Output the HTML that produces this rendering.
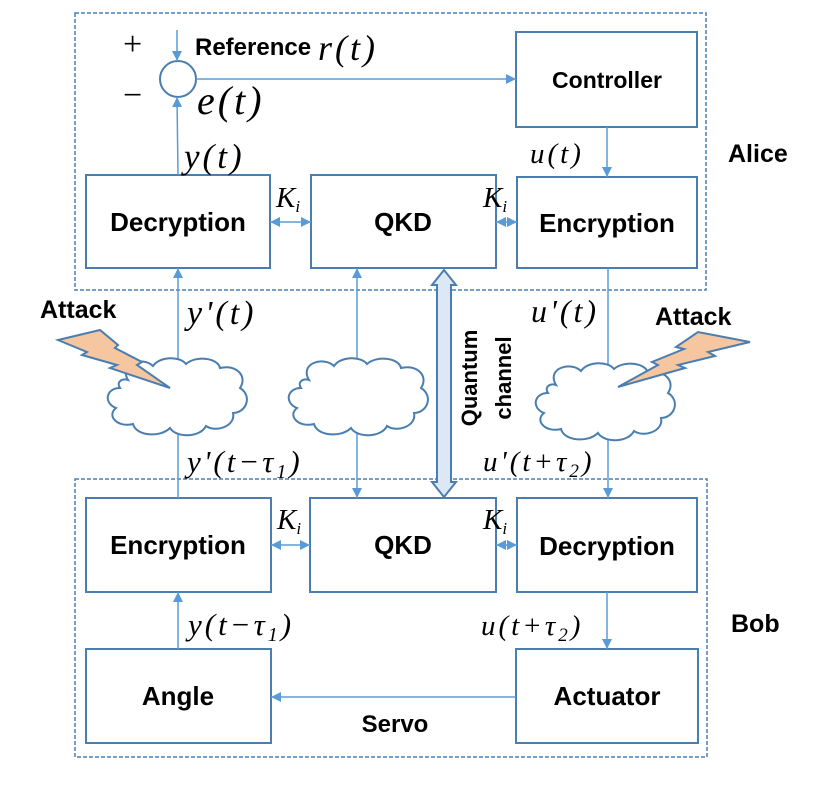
<!DOCTYPE html>
<html><head><meta charset="utf-8"><style>
html,body{margin:0;padding:0;background:#fff}
svg{display:block}
.b{font-family:"Liberation Sans",sans-serif;font-weight:bold;fill:#000}
.m{font-family:"Liberation Serif",serif;font-style:italic;fill:#000;letter-spacing:3px}
.r{font-family:"Liberation Serif",serif;fill:#000}
</style></head><body>
<svg width="831" height="785" viewBox="0 0 831 785" xmlns="http://www.w3.org/2000/svg">
<defs>
<marker id="a" viewBox="0 0 10 10" refX="10" refY="5" markerWidth="10" markerHeight="10" markerUnits="userSpaceOnUse" orient="auto-start-reverse"><path d="M0,0 L10,5 L0,10 z" fill="#5b9bd5"/></marker>
<g id="cloud"><path d="M20,22 C10,5 35,-2 45,8 C52,-2 72,-2 78,6 C88,-3 110,0 112,10 C128,6 140,18 132,30 C145,38 138,55 125,55 C128,68 108,75 98,68 C92,80 68,80 62,70 C52,80 28,78 25,66 C10,70 -2,58 8,50 C-5,45 -2,30 12,30 C8,24 14,20 20,22 z" fill="#fff" stroke="#4a7eb0" stroke-width="2"/></g>
</defs>
<g fill="none" stroke="#4a7eb0" stroke-width="1.5" stroke-dasharray="4,2">
<rect x="75" y="13" width="631" height="277"/>
<rect x="75" y="479" width="632" height="278"/>
</g>
<g fill="#fff" stroke="#4a7eb0" stroke-width="2">
<rect x="516" y="32" width="181" height="95"/>
<rect x="86" y="175" width="184" height="93"/>
<rect x="311" y="175" width="185" height="93"/>
<rect x="517" y="177" width="180" height="91"/>
<rect x="86" y="498" width="185" height="94"/>
<rect x="310" y="498" width="186" height="94"/>
<rect x="517" y="498" width="180" height="94"/>
<rect x="86" y="649" width="185" height="94"/>
<rect x="516" y="649" width="182" height="94"/>
<circle cx="178" cy="79" r="18"/>
</g>
<g stroke="#5b9bd5" stroke-width="1.5" fill="none">
<line x1="177" y1="30" x2="177" y2="61" marker-end="url(#a)"/>
<line x1="196" y1="79" x2="516" y2="79" marker-end="url(#a)"/>
<line x1="178" y1="175" x2="177" y2="97" marker-end="url(#a)"/>
<line x1="607" y1="127" x2="607" y2="177" marker-end="url(#a)"/>
<line x1="270" y1="222" x2="311" y2="222" marker-start="url(#a)" marker-end="url(#a)"/>
<line x1="496" y1="222" x2="517" y2="222" marker-start="url(#a)" marker-end="url(#a)"/>
<line x1="178" y1="498" x2="178" y2="268" marker-end="url(#a)"/>
<line x1="357" y1="268" x2="357" y2="498" marker-start="url(#a)" marker-end="url(#a)"/>
<line x1="608" y1="268" x2="608" y2="498" marker-end="url(#a)"/>
<line x1="271" y1="545" x2="310" y2="545" marker-start="url(#a)" marker-end="url(#a)"/>
<line x1="496" y1="545" x2="517" y2="545" marker-start="url(#a)" marker-end="url(#a)"/>
<line x1="178" y1="649" x2="178" y2="592" marker-end="url(#a)"/>
<line x1="607" y1="592" x2="607" y2="649" marker-end="url(#a)"/>
<line x1="516" y1="697" x2="271" y2="697" marker-end="url(#a)"/>
</g>
<use href="#cloud" x="108" y="358"/>
<use href="#cloud" x="289" y="358"/>
<use href="#cloud" x="536" y="363"/>
<path d="M444,270 L456,285 L451,285 L451,482 L456,482 L444,497 L432,482 L437,482 L437,285 L432,285 z" fill="#dce8f5" stroke="#4a7eb0" stroke-width="2"/>
<polygon points="58,340 100,330 118,345 115,348 142,362 137,365 170,388 110,368 117,365 82,355 87,352" fill="#f6c6a0" stroke="#4a7eb0" stroke-width="2"/>
<polygon points="750,342 698,332 676,347 684,349 652,362 658,365 618,387 685,368 678,365 715,356 708,352" fill="#f6c6a0" stroke="#4a7eb0" stroke-width="2"/>
<g class="b" font-size="26" text-anchor="middle">
<text x="178" y="231">Decryption</text>
<text x="403" y="231">QKD</text>
<text x="607" y="232">Encryption</text>
<text x="178" y="554">Encryption</text>
<text x="403" y="554">QKD</text>
<text x="607" y="555">Decryption</text>
<text x="178" y="705">Angle</text>
<text x="607" y="705">Actuator</text>
<text x="607" y="88" font-size="23">Controller</text>
<text x="395" y="732" font-size="24">Servo</text>
</g>
<g class="b" font-size="25">
<text x="195" y="55" font-size="24">Reference</text>
<text x="40" y="318">Attack</text>
<text x="655" y="325">Attack</text>
<text x="728" y="162">Alice</text>
<text x="731" y="632">Bob</text>
</g>
<g class="b" font-size="22" text-anchor="middle">
<text transform="translate(477,378) rotate(-90)">Quantum</text>
<text transform="translate(511,378) rotate(-90)">channel</text>
</g>
<g class="r" font-size="34"><text x="123" y="55">+</text><text x="123" y="106">−</text></g>
<g class="m" font-size="36">
<text x="318" y="60">r<tspan class="r">(</tspan>t<tspan class="r">)</tspan></text>
<text x="197" y="114" font-size="40">e<tspan class="r">(</tspan>t<tspan class="r">)</tspan></text>
<text x="184" y="168" font-size="35">y<tspan class="r">(</tspan>t<tspan class="r">)</tspan></text>
<text x="530" y="163" font-size="29">u<tspan class="r">(</tspan>t<tspan class="r">)</tspan></text>
<text x="187" y="324" font-size="34">y<tspan class="r">'(</tspan>t<tspan class="r">)</tspan></text>
<text x="531" y="322" font-size="32">u<tspan class="r">'(</tspan>t<tspan class="r">)</tspan></text>
<text x="187" y="472" font-size="31">y<tspan class="r">'(</tspan>t<tspan class="r">−</tspan>τ<tspan class="r" font-size="20" dy="6">1</tspan><tspan class="r" dy="-6">)</tspan></text>
<text x="483" y="471" font-size="29">u<tspan class="r">'(</tspan>t<tspan class="r">+</tspan>τ<tspan class="r" font-size="19" dy="6">2</tspan><tspan class="r" dy="-6">)</tspan></text>
<text x="188" y="635" font-size="31">y<tspan class="r">(</tspan>t<tspan class="r">−</tspan>τ<tspan class="r" font-size="20" dy="6">1</tspan><tspan class="r" dy="-6">)</tspan></text>
<text x="481" y="635" font-size="29">u<tspan class="r">(</tspan>t<tspan class="r">+</tspan>τ<tspan class="r" font-size="19" dy="6">2</tspan><tspan class="r" dy="-6">)</tspan></text>
<text x="276" y="207" font-size="29" letter-spacing="0">K<tspan font-size="17" dy="5">i</tspan></text>
<text x="483" y="207" font-size="29" letter-spacing="0">K<tspan font-size="17" dy="5">i</tspan></text>
<text x="277" y="529" font-size="29" letter-spacing="0">K<tspan font-size="17" dy="5">i</tspan></text>
<text x="483" y="529" font-size="29" letter-spacing="0">K<tspan font-size="17" dy="5">i</tspan></text>
</g>
</svg>
</body></html>
